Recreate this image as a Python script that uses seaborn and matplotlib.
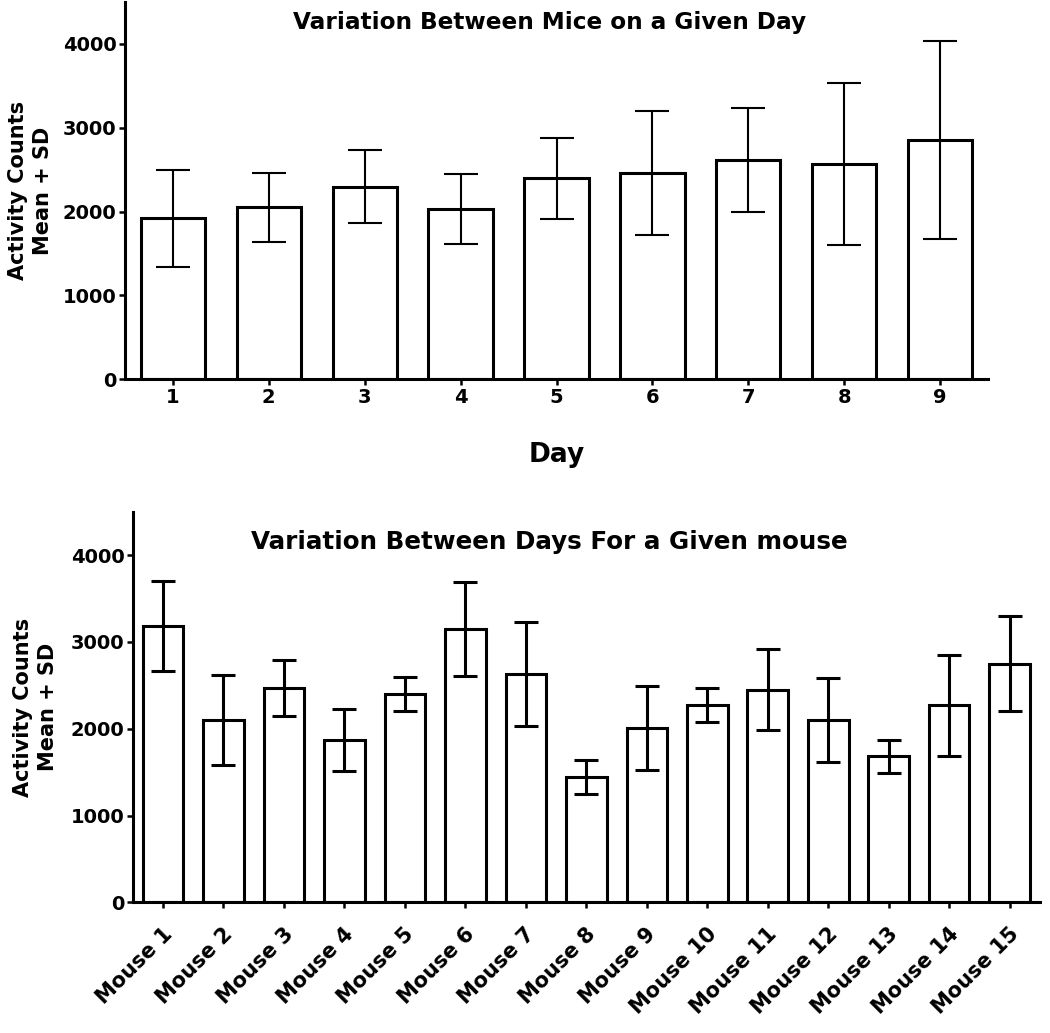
import numpy as np
import pandas as pd
import matplotlib
matplotlib.use("Agg")
import matplotlib.pyplot as plt
import matplotlib.transforms as mtransforms
import seaborn as sns

# ---- data ----
days = ["1", "2", "3", "4", "5", "6", "7", "8", "9"]
day_mean = [1920, 2050, 2295, 2030, 2395, 2460, 2610, 2570, 2855]
day_sd = [580, 410, 435, 415, 486, 735, 620, 965, 1185]

mice = [f"Mouse {i}" for i in range(1, 16)]
mouse_mean = [3185, 2100, 2470, 1865, 2400, 3145, 2630, 1440, 2010,
              2275, 2450, 2100, 1685, 2270, 2750]
mouse_sd = [520, 514, 322, 358, 200, 543, 600, 198, 483,
            198, 465, 480, 190, 580, 552]

yticks = [0, 1000, 2000, 3000, 4000]

sns.set_theme(style="ticks")
plt.rcParams["font.family"] = ["DejaVu Sans"]
plt.rcParams["font.weight"] = "bold"
plt.rcParams["axes.labelweight"] = "bold"
plt.rcParams["text.color"] = "black"
plt.rcParams["axes.labelcolor"] = "black"
plt.rcParams["xtick.color"] = "black"
plt.rcParams["ytick.color"] = "black"

fig = plt.figure(figsize=(10.5, 10.33), dpi=100)
ax1 = fig.add_axes([0.119, 0.6328, 0.822, 0.3653])
ax2 = fig.add_axes([0.1264, 0.1265, 0.864, 0.3782])

df_day = pd.DataFrame({"day": days, "mean": day_mean, "sd": day_sd})
df_mouse = pd.DataFrame({"mouse": mice, "mean": mouse_mean, "sd": mouse_sd})


def panel(ax, df, xcol, elw, cap):
    sns.barplot(data=df, x=xcol, y="mean", ax=ax, color="white", saturation=1,
                edgecolor="black", linewidth=2.2, width=0.67, errorbar=None)
    xs = np.arange(len(df))
    ax.errorbar(xs, df["mean"], yerr=df["sd"], fmt="none", ecolor="black",
                elinewidth=elw, capsize=cap, capthick=elw, zorder=5)
    ax.set_xlim(-0.5, len(df) - 0.5)
    ax.set_ylim(0, 4500)
    ax.set_yticks(yticks)
    ax.set_yticklabels([str(v) for v in yticks])
    sns.despine(ax=ax)
    for s in ["left", "bottom"]:
        ax.spines[s].set_linewidth(2.2)
        ax.spines[s].set_color("black")
    ax.tick_params(axis="both", length=4, width=1.8, color="black",
                   labelsize=14, pad=2, labelcolor="black")
    for t in ax.get_xticklabels() + ax.get_yticklabels():
        t.set_fontweight("bold")
    ax.set_ylabel("Activity Counts\nMean + SD", fontsize=15, fontweight="bold",
                  linespacing=1.35, color="black")


panel(ax1, df_day, "day", 1.5, 12)
ax1.set_xlabel("Day", fontsize=19, fontweight="bold", color="black")
ax1.xaxis.set_label_coords(0.5, -0.165)
ax1.yaxis.set_label_coords(-0.083, 0.5)

panel(ax2, df_mouse, "mouse", 2.2, 8.3)
ax2.set_xlabel("")
ax2.yaxis.set_label_coords(-0.082, 0.5)
offset = mtransforms.ScaledTranslation(6 / 100, -20 / 100, fig.dpi_scale_trans)
for t in ax2.get_xticklabels():
    t.set_rotation(45)
    t.set_ha("right")
    t.set_va("center")
    t.set_rotation_mode("anchor")
    t.set_fontsize(15)
    t.set_transform(t.get_transform() + offset)

fig.text(550 / 1050, 1 - 22 / 1033, "Variation Between Mice on a Given Day",
         ha="center", va="center", fontsize=16.7, fontweight="bold", color="black")
fig.text(549.5 / 1050, 1 - 541.7 / 1033, "Variation Between Days For a Given mouse",
         ha="center", va="center", fontsize=17.7, fontweight="bold", color="black")

fig.savefig("out.png", dpi=100, facecolor="white")
